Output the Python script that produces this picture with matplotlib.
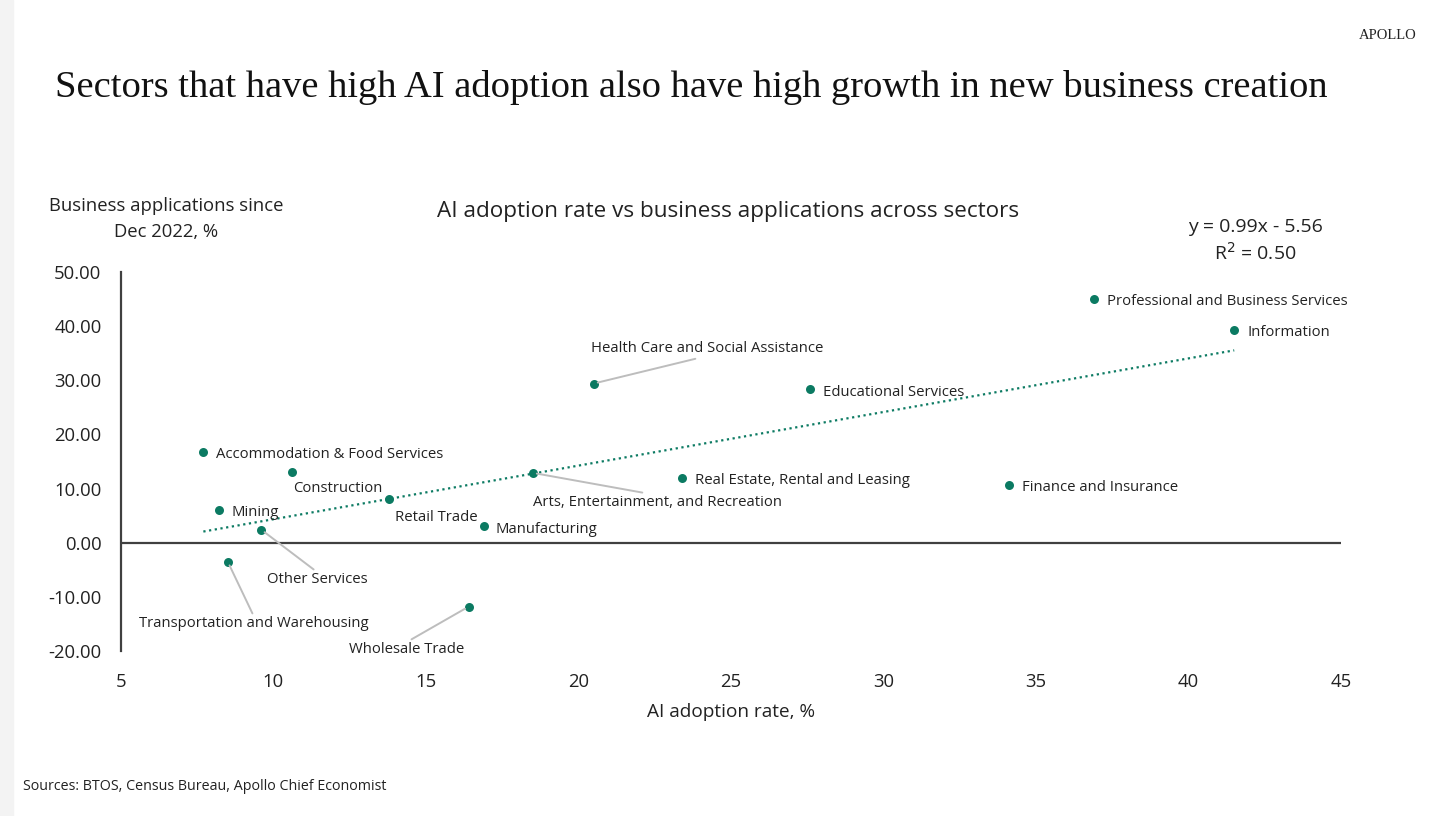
import numpy as np
import matplotlib
matplotlib.use("Agg")
import matplotlib.pyplot as plt
from matplotlib.ticker import FormatStrFormatter

# data
sectors = ["Professional and Business Services", "Information",
           "Health Care and Social Assistance", "Educational Services",
           "Accommodation & Food Services", "Construction",
           "Arts, Entertainment, and Recreation", "Real Estate, Rental and Leasing",
           "Finance and Insurance", "Retail Trade", "Mining", "Manufacturing",
           "Other Services", "Transportation and Warehousing", "Wholesale Trade"]
ai_rate = [36.9, 41.5, 20.5, 27.6, 7.7, 10.6, 18.5, 23.4, 34.1, 13.8, 8.2, 16.9, 9.6, 8.5, 16.4]
biz_apps = [45.1, 39.3, 29.4, 28.3, 16.8, 13.1, 12.9, 12.0, 10.7, 8.1, 6.1, 3.1, 2.4, -3.5, -11.8]
slope, intercept, r2 = 0.99, -5.56, 0.50

# label placement: (dx, dy in pixels, ha, leader line anchor on text or None)
label_pos = {
    "Professional and Business Services": (13, -3, "left", None),
    "Information": (13, -3, "left", None),
    "Health Care and Social Assistance": (113, 35, "center", (0.5, 0)),
    "Educational Services": (13, -3, "left", None),
    "Accommodation & Food Services": (13, -3, "left", None),
    "Construction": (1, -17, "left", None),
    "Arts, Entertainment, and Recreation": (125, -30, "center", (0.5, 1)),
    "Real Estate, Rental and Leasing": (13, -3, "left", None),
    "Finance and Insurance": (13, -3, "left", None),
    "Retail Trade": (6, -19, "left", None),
    "Mining": (13, -3, "left", None),
    "Manufacturing": (12, -4, "left", None),
    "Other Services": (56, -50, "center", (0.5, 1)),
    "Transportation and Warehousing": (26, -62, "center", (0.5, 1)),
    "Wholesale Trade": (-62, -43, "center", (0.5, 1)),
}

teal = "#0b7a62"
txt = "#222222"
plt.rcParams["font.family"] = ["Open Sans", "DejaVu Sans"]

fig = plt.figure(figsize=(14.56, 8.16), dpi=100)
fig.patch.set_facecolor("white")
fig.add_artist(plt.Rectangle((0, 0), 0.009, 1, transform=fig.transFigure,
                             color="#f3f3f3", zorder=0))
ax = fig.add_axes([0.0831, 0.2022, 0.8379, 0.4645])

ax.scatter(ai_rate, biz_apps, s=42, color=teal, zorder=3, linewidths=0)
xs = np.array([min(ai_rate), max(ai_rate)])
ax.plot(xs, slope * xs + intercept, linestyle=(0, (1, 1.6)), color=teal, lw=1.6, zorder=2)
ax.axhline(0, color="#404040", lw=1.6, zorder=1)

for name, x, y in zip(sectors, ai_rate, biz_apps):
    dx, dy, ha, anchor = label_pos[name]
    kw = {}
    if anchor is not None:
        kw["arrowprops"] = dict(arrowstyle="-", color="#bdbdbd", lw=1.4,
                                shrinkA=0, shrinkB=3, relpos=anchor)
    ax.annotate(name, (x, y), xytext=(dx, dy), textcoords="offset pixels",
                ha=ha, va="center", fontsize=10.7, color=txt, zorder=4, **kw)

ax.set_xlim(5, 45)
ax.set_ylim(-20, 50)
ax.set_xticks(range(5, 50, 5))
ax.set_yticks(range(-20, 60, 10))
ax.yaxis.set_major_formatter(FormatStrFormatter("%.2f"))
ax.tick_params(length=0, labelsize=13.3, colors=txt, pad=14)
ax.tick_params(axis="x", pad=16)
for s in ["top", "right", "bottom"]:
    ax.spines[s].set_visible(False)
ax.spines["left"].set_color("#404040")
ax.spines["left"].set_linewidth(1.6)

fig.text(0.502, 0.127, "AI adoption rate, %", ha="center", va="center", fontsize=13.7, color=txt)
fig.text(0.114, 0.732, "Business applications since\nDec 2022, %", ha="center", va="center",
         fontsize=13.3, color=txt, linespacing=1.55)
fig.text(0.5, 0.741, "AI adoption rate vs business applications across sectors",
         ha="center", va="center", fontsize=16.2, color=txt)
fig.text(0.862, 0.705, f"y = {slope:.2f}x - {abs(intercept):.2f}\nR$^2$ = {r2:.2f}",
         ha="center", va="center", fontsize=14, color=txt, linespacing=1.35)
fig.text(0.038, 0.893, "Sectors that have high AI adoption also have high growth in new business creation",
         ha="left", va="center", fontsize=27.7, family="Liberation Serif", color="#111111")
fig.text(0.973, 0.957, "APOLLO", ha="right", va="center", fontsize=10.5,
         family="Liberation Serif", color="#222222")
fig.text(0.016, 0.036, "Sources: BTOS, Census Bureau, Apollo Chief Economist",
         ha="left", va="center", fontsize=10.3, color=txt)

fig.savefig("out.png", dpi=100)
